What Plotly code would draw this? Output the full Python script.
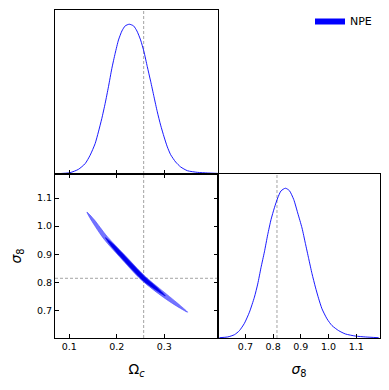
import plotly.graph_objects as go

# ---------------- data ----------------
# 1D marginal of Omega_c (relative density, peak = 1)
omega_grid = [0.0734, 0.1015, 0.1190, 0.1332, 0.1437, 0.1543, 0.1612, 0.1684, 0.1754,
              0.1824, 0.1895, 0.1965, 0.2035, 0.2107, 0.2176, 0.2261, 0.2352, 0.2423,
              0.2500, 0.2571, 0.2641, 0.2711, 0.2782, 0.2852, 0.2922, 0.2994, 0.3063,
              0.3133, 0.3239, 0.3344, 0.3486, 0.3697, 0.3908, 0.4130]
omega_density = [0.002, 0.009, 0.031, 0.069, 0.125, 0.203, 0.281, 0.371, 0.471,
                 0.583, 0.705, 0.806, 0.895, 0.955, 0.989, 1.000, 0.989, 0.955,
                 0.895, 0.817, 0.717, 0.620, 0.516, 0.415, 0.326, 0.248, 0.181,
                 0.129, 0.080, 0.047, 0.022, 0.011, 0.007, 0.004]

# 1D marginal of sigma_8 (relative density, peak = 1)
sigma_grid = [0.6061, 0.6361, 0.6603, 0.6783, 0.6964, 0.7144, 0.7325, 0.7444, 0.7563,
              0.7686, 0.7805, 0.7924, 0.8047, 0.8166, 0.8285, 0.8444, 0.8588, 0.8744,
              0.8888, 0.9043, 0.9166, 0.9285, 0.9404, 0.9527, 0.9646, 0.9765, 0.9946,
              1.0126, 1.0368, 1.0610, 1.0971, 1.1332, 1.1812]
sigma_density = [0.002, 0.007, 0.022, 0.049, 0.098, 0.172, 0.273, 0.360, 0.470,
                 0.575, 0.690, 0.790, 0.870, 0.935, 0.982, 1.000, 0.984, 0.925,
                 0.835, 0.735, 0.631, 0.530, 0.430, 0.340, 0.262, 0.195, 0.128,
                 0.083, 0.049, 0.027, 0.013, 0.007, 0.002]

# 2D credible regions (outer ~95%, inner ~68%) as polygon vertices
outer_omega = [0.1370, 0.1521, 0.1791, 0.2137, 0.2599, 0.3053, 0.3273, 0.3490,
               0.3227, 0.2987, 0.2521, 0.2063, 0.1729, 0.1479, 0.1370]
outer_sigma = [1.0500, 1.0236, 0.9643, 0.9022, 0.8206, 0.7566, 0.7259, 0.6930,
               0.7181, 0.7454, 0.8074, 0.8898, 0.9537, 1.0164, 1.0500]
inner_omega = [0.1760, 0.1920, 0.2127, 0.2588, 0.2823, 0.3020,
               0.2777, 0.2532, 0.2073, 0.1880, 0.1760]
inner_sigma = [0.9590, 0.9364, 0.9006, 0.8188, 0.7848, 0.7510,
               0.7772, 0.8092, 0.8914, 0.9296, 0.9590]

# fiducial (true) values
truth_omega = 0.2565
truth_sigma = 0.814

omega_ticks = [0.1, 0.2, 0.3]
omega_ticktext = ["0.1", "0.2", "0.3"]
sigma_ticks = [0.7, 0.8, 0.9, 1.0, 1.1]
sigma_ticktext = ["0.7", "0.8", "0.9", "1.0", "1.1"]
omega_range = [0.0698, 0.413]
sigma_range = [0.601, 1.186]
density_range = [0, 1.095]
legend_name = "NPE"

# ---------------- figure ----------------
# the page body has an 8px margin, so the figure is 16px smaller and shifted
OFF = 8
W, H = 389 - 2 * OFF, 390 - 2 * OFF
def px_x(p): return (p - OFF) / W
def px_y(p): return 1 - (p - OFF) / H

xl, xm, xr = px_x(55), px_x(218), px_x(380)
yt, ym, yb = px_y(10), px_y(174), px_y(338)

FONT = "DejaVu Sans"
BLUE = "#0000ff"

fig = go.Figure()

# top-left marginal
fig.add_trace(go.Scatter(x=omega_grid, y=omega_density, mode="lines",
                         line=dict(color=BLUE, width=0.9, shape="spline", smoothing=0.6),
                         xaxis="x", yaxis="y", showlegend=False, hoverinfo="skip"))
# bottom-left 2D contours
fig.add_trace(go.Scatter(x=outer_omega, y=outer_sigma, mode="lines", fill="toself",
                         fillcolor="rgba(100,100,255,0.9)",
                         line=dict(color="rgba(70,70,255,1)", width=0.6, shape="spline", smoothing=0.8),
                         xaxis="x2", yaxis="y2", showlegend=False, hoverinfo="skip"))
fig.add_trace(go.Scatter(x=inner_omega, y=inner_sigma, mode="lines", fill="toself",
                         fillcolor="rgba(0,0,240,1)",
                         line=dict(color="rgba(0,0,230,1)", width=0.6, shape="spline", smoothing=0.8),
                         xaxis="x2", yaxis="y2", showlegend=False, hoverinfo="skip"))
# bottom-right marginal
fig.add_trace(go.Scatter(x=sigma_grid, y=sigma_density, mode="lines",
                         line=dict(color=BLUE, width=0.9, shape="spline", smoothing=0.6),
                         xaxis="x3", yaxis="y3", showlegend=False, hoverinfo="skip"))
# legend entry
fig.add_trace(go.Scatter(x=[None], y=[None], mode="lines", fill="toself",
                         fillcolor=BLUE, line=dict(color=BLUE, width=0),
                         name=legend_name, xaxis="x", yaxis="y", showlegend=True))

dash = dict(color="#8c8c8c", width=0.8, dash="3px,2px")
shapes = [
    dict(type="line", xref="x", yref="y domain", x0=truth_omega, x1=truth_omega, y0=0, y1=1, line=dash, layer="below"),
    dict(type="line", xref="x2", yref="y2 domain", x0=truth_omega, x1=truth_omega, y0=0, y1=1, line=dash, layer="below"),
    dict(type="line", xref="x2 domain", yref="y2", x0=0, x1=1, y0=truth_sigma, y1=truth_sigma, line=dash, layer="below"),
    dict(type="line", xref="x3", yref="y3 domain", x0=truth_sigma, x1=truth_sigma, y0=0, y1=1, line=dash, layer="below"),
]

tickfont = dict(family=FONT, size=9.5, color="black")
titlefont = dict(family=FONT, size=14, color="black")
common = dict(showline=True, linecolor="black", linewidth=1, showgrid=False, zeroline=False,
              ticklen=4, tickwidth=1, tickcolor="black", tickfont=tickfont, automargin=False)

fig.update_layout(
    width=W, height=H, margin=dict(l=0, r=0, t=0, b=0, autoexpand=False),
    paper_bgcolor="white", plot_bgcolor="white",
    font=dict(family=FONT, color="black"),
    shapes=shapes,
    showlegend=True,
    legend=dict(x=px_x(310), y=px_y(6), xanchor="left", yanchor="top",
                bgcolor="rgba(0,0,0,0)", borderwidth=0,
                font=dict(family=FONT, size=11, color="black")),
    xaxis=dict(domain=[xl, xm], anchor="y", range=omega_range, ticks="inside", mirror=True,
               tickvals=omega_ticks, showticklabels=False, **common),
    yaxis=dict(domain=[ym, yt], anchor="x", range=density_range, ticks="", mirror=True,
               showticklabels=False, **common),
    xaxis2=dict(domain=[xl, xm], anchor="y2", range=omega_range, ticks="inside", mirror="ticks",
                tickvals=omega_ticks, ticktext=omega_ticktext,
                title=dict(text="Ω<sub><i>c</i></sub>", font=titlefont, standoff=12), **common),
    yaxis2=dict(domain=[yb, ym], anchor="x2", range=sigma_range, ticks="inside", mirror="ticks",
                tickvals=sigma_ticks, ticktext=sigma_ticktext,
                title=dict(text="<i>σ</i><sub>8</sub>", font=titlefont, standoff=12), **common),
    xaxis3=dict(domain=[xm, xr], anchor="y3", range=sigma_range, ticks="inside", mirror=True,
                tickvals=sigma_ticks, ticktext=sigma_ticktext,
                title=dict(text="<i>σ</i><sub>8</sub>", font=titlefont, standoff=12), **common),
    yaxis3=dict(domain=[yb, ym], anchor="x3", range=density_range, ticks="", mirror=True,
                showticklabels=False, **common),
)

fig.write_html("out.html")
